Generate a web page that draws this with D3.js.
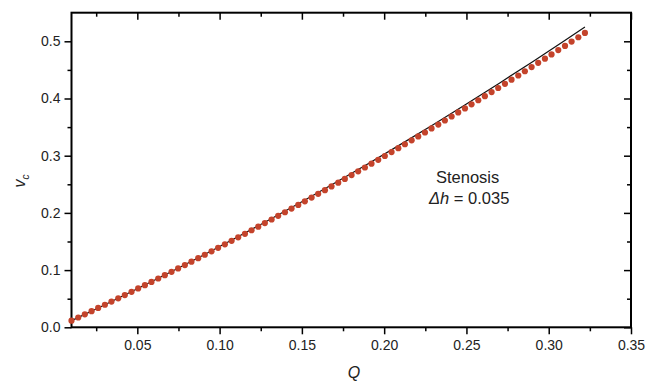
<!DOCTYPE html>
<html><head><meta charset="utf-8">
<script src="https://cdn.jsdelivr.net/npm/d3@7"></script>
<style>body{margin:0;background:#fff}svg{display:block}text{font-family:"Liberation Sans",Arial,sans-serif}</style>
</head><body><svg id="c" width="648" height="384"></svg>
<script>
// Simulation (red dots)
const qDots = [0.0100,0.0141,0.0181,0.0222,0.0262,0.0303,0.0343,0.0384,0.0424,0.0465,0.0505,0.0546,0.0586,0.0627,0.0667,0.0708,0.0748,0.0789,0.0829,0.0870,0.0910,0.0951,0.0991,0.1032,0.1073,0.1113,0.1154,0.1194,0.1235,0.1275,0.1316,0.1356,0.1397,0.1437,0.1478,0.1518,0.1559,0.1599,0.1640,0.1680,0.1721,0.1761,0.1802,0.1842,0.1883,0.1923,0.1964,0.2004,0.2045,0.2086,0.2126,0.2167,0.2207,0.2248,0.2288,0.2329,0.2369,0.2410,0.2450,0.2491,0.2531,0.2572,0.2612,0.2653,0.2693,0.2734,0.2774,0.2815,0.2855,0.2896,0.2936,0.2977,0.3017,0.3058,0.3099,0.3139,0.3180,0.3220];
const vDots = [0.0116,0.0171,0.0226,0.0282,0.0338,0.0394,0.0450,0.0507,0.0564,0.0621,0.0679,0.0736,0.0794,0.0853,0.0911,0.0970,0.1029,0.1088,0.1148,0.1208,0.1268,0.1329,0.1389,0.1450,0.1512,0.1573,0.1635,0.1697,0.1759,0.1822,0.1885,0.1948,0.2011,0.2075,0.2139,0.2203,0.2268,0.2333,0.2398,0.2463,0.2529,0.2594,0.2661,0.2727,0.2794,0.2861,0.2928,0.2995,0.3063,0.3131,0.3200,0.3268,0.3337,0.3406,0.3476,0.3545,0.3615,0.3685,0.3756,0.3827,0.3898,0.3969,0.4040,0.4112,0.4184,0.4257,0.4329,0.4402,0.4476,0.4549,0.4623,0.4697,0.4771,0.4846,0.4920,0.4995,0.5071,0.5146];
// Theory (black line)
const qLine = [0.01,0.03,0.05,0.07,0.09,0.11,0.13,0.15,0.17,0.19,0.21,0.23,0.25,0.27,0.29,0.31,0.322];
const vLine = [0.0116,0.0391,0.0673,0.0962,0.1259,0.1564,0.1876,0.2195,0.2522,0.2856,0.3198,0.3547,0.3904,0.4268,0.4640,0.5019,0.5250];
const xTicks = [0.05,0.10,0.15,0.20,0.25,0.30,0.35];
const xMinor = [0.025,0.075,0.125,0.175,0.225,0.275,0.325];
const yTicks = [0.0,0.1,0.2,0.3,0.4,0.5];
const yMinor = [0.05,0.15,0.25,0.35,0.45];
const annot1 = "Stenosis", annot2val = "0.035";

const svg = d3.select("#c");
const L=71.5, R=631, T=12.7, B=327.3;
const x = d3.scaleLinear().domain([0.01,0.35]).range([L,R]);
const y = d3.scaleLinear().domain([0,0.55]).range([B,T]);

const fmtX = d3.format(".2f"), fmtY = d3.format(".1f");
function styleAxis(g){
  g.select(".domain").remove();
  g.selectAll("line").attr("stroke","#000").attr("stroke-width",1.5);
  g.selectAll("text").attr("font-size",14).attr("fill","#222");
}
// bottom
svg.append("g").attr("transform",`translate(0,${B})`)
  .call(d3.axisBottom(x).tickValues(xTicks).tickFormat(fmtX).tickSize(7).tickPadding(6)).call(styleAxis);
svg.append("g").attr("transform",`translate(0,${B})`)
  .call(d3.axisBottom(x).tickValues(xMinor).tickFormat("").tickSize(4)).call(styleAxis);
// top (inward)
svg.append("g").attr("transform",`translate(0,${T})`)
  .call(d3.axisBottom(x).tickValues(xTicks).tickFormat("").tickSize(7)).call(styleAxis);
svg.append("g").attr("transform",`translate(0,${T})`)
  .call(d3.axisBottom(x).tickValues(xMinor).tickFormat("").tickSize(4)).call(styleAxis);
// left
svg.append("g").attr("transform",`translate(${L},0)`)
  .call(d3.axisLeft(y).tickValues(yTicks).tickFormat(fmtY).tickSize(7).tickPadding(4)).call(styleAxis);
svg.append("g").attr("transform",`translate(${L},0)`)
  .call(d3.axisLeft(y).tickValues(yMinor).tickFormat("").tickSize(4)).call(styleAxis);
// right (inward)
svg.append("g").attr("transform",`translate(${R},0)`)
  .call(d3.axisLeft(y).tickValues(yTicks).tickFormat("").tickSize(7)).call(styleAxis);
svg.append("g").attr("transform",`translate(${R},0)`)
  .call(d3.axisLeft(y).tickValues(yMinor).tickFormat("").tickSize(4)).call(styleAxis);

// frame
svg.append("rect").attr("x",L).attr("y",T).attr("width",R-L).attr("height",B-T)
  .attr("fill","none").attr("stroke","#000").attr("stroke-width",2);

// line
svg.append("path").datum(qLine.map((q,i)=>[q,vLine[i]]))
  .attr("fill","none").attr("stroke","#111").attr("stroke-width",1.2)
  .attr("d", d3.line().x(d=>x(d[0])).y(d=>y(d[1])).curve(d3.curveMonotoneX));
// dots
svg.append("g").selectAll("circle").data(qDots.map((q,i)=>[q,vDots[i]])).join("circle")
  .attr("cx",d=>x(d[0])).attr("cy",d=>y(d[1])).attr("r",3.1).attr("fill","#c4432b");

// axis titles
svg.append("text").attr("x",354).attr("y",378).attr("text-anchor","middle")
  .attr("font-size",16).attr("font-style","italic").attr("fill","#222").text("Q");
const yt = svg.append("text").attr("transform","translate(25,181) rotate(-90)")
  .attr("text-anchor","middle").attr("font-size",16).attr("fill","#222");
yt.append("tspan").attr("font-style","italic").text("v");
yt.append("tspan").attr("font-size",10).attr("font-style","italic").attr("dy",4).text("c");

// annotation
svg.append("text").attr("x",436).attr("y",183).attr("font-size",16.5).attr("fill","#222").text(annot1);
const a2 = svg.append("text").attr("x",429).attr("y",204).attr("font-size",16.5).attr("fill","#222");
a2.append("tspan").attr("font-style","italic").text("\u0394h");
a2.append("tspan").text(" = " + annot2val);
</script></body></html>
